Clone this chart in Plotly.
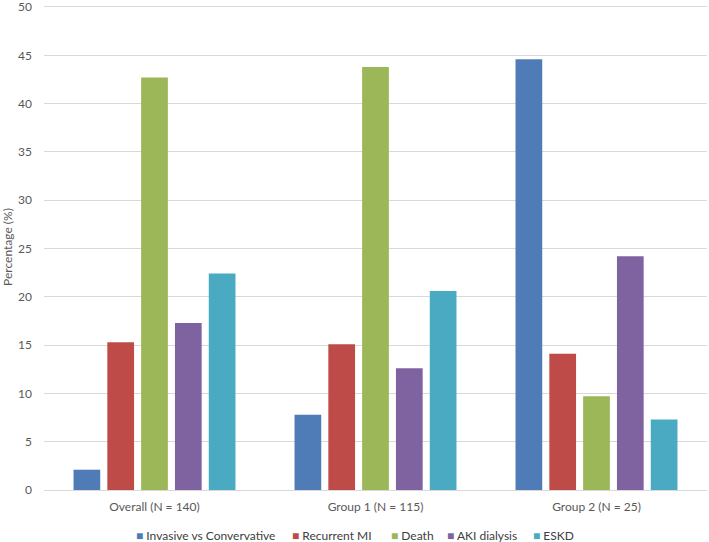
import plotly.graph_objects as go

categories = ["Overall (N = 140)", "Group 1 (N = 115)", "Group 2 (N = 25)"]
series_names = ["Invasive vs Convervative", "Recurrent MI", "Death", "AKI dialysis", "ESKD"]
invasive = [2.1, 7.8, 44.6]
recurrent_mi = [15.3, 15.1, 14.1]
death = [42.7, 43.8, 9.7]
aki_dialysis = [17.3, 12.6, 24.2]
eskd = [22.4, 20.6, 7.3]
y_ticks = [0, 5, 10, 15, 20, 25, 30, 35, 40, 45, 50]

colors = ["#4F7CB6", "#BE4B48", "#9BB758", "#7F63A0", "#4AAAC2"]
values = [invasive, recurrent_mi, death, aki_dialysis, eskd]

W, H = 709, 542
ML, MR, MT, MB = 44, 2, 4, 52
plot_w = W - ML - MR

fig = go.Figure()
for name, vals, col in zip(series_names, values, colors):
    fig.add_trace(go.Bar(x=categories, y=vals, name=name,
                         marker=dict(color=col, line=dict(width=0))))

# Legend drawn as text annotations (compact Excel-like legend)
legend_x_px = [134, 290, 389, 445, 531]
annotations = []
for name, col, px in zip(series_names, colors, legend_x_px):
    annotations.append(dict(
        xref="paper", yref="paper",
        x=(px - ML) / plot_w, y=-(535 - (H - MB)) / (H - MT - MB),
        xanchor="left", yanchor="middle", showarrow=False,
        text=f"<span style='color:{col}'>■</span> {name}",
        font=dict(family="Lato", size=12, color="#404040"),
    ))

font_family = "Lato"
fig.update_layout(
    width=W, height=H,
    margin=dict(l=ML, r=MR, t=MT, b=MB, autoexpand=False),
    paper_bgcolor="white", plot_bgcolor="white",
    barmode="group", bargap=0.235, bargroupgap=0.21,
    font=dict(family=font_family, size=12, color="#595959"),
    showlegend=False,
    annotations=annotations,
    yaxis=dict(range=[0, 50.31], tickvals=y_ticks, showgrid=True, gridcolor="#D9D9D9",
               gridwidth=1, zeroline=False, showline=False, ticks="",
               ticklabelstandoff=11, automargin=False, ticklabeloverflow="allow",
               tickfont=dict(family=font_family, size=12, color="#595959"),
               title=dict(text="Percentage (%)",
                          font=dict(family=font_family, size=12, color="#595959"),
                          standoff=3)),
    xaxis=dict(showline=True, linecolor="#D9D9D9", linewidth=1, ticks="",
               ticklabelstandoff=6, automargin=False,
               tickfont=dict(family=font_family, size=12, color="#595959")),
)

fig.write_html("out.html", config={"displayModeBar": False},
               post_script="document.body.style.margin='0';document.body.style.overflow='hidden';")
